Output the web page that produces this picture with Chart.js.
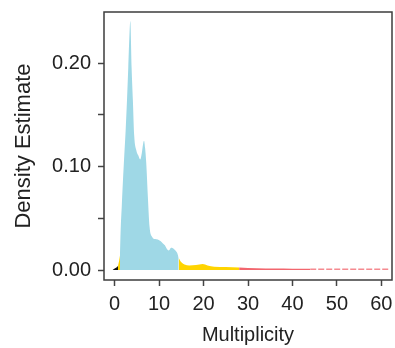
<!DOCTYPE html>
<html>
<head>
<meta charset="utf-8">
<script src="https://cdn.jsdelivr.net/npm/chart.js@4/dist/chart.umd.min.js"></script>
<style>
  html, body { margin: 0; padding: 0; background: #fff; }
  canvas { display: block; }
</style>
</head>
<body>
<canvas id="density-chart" width="395" height="348"></canvas>
<script>
// Multiplicity values (x) and density estimates (y), one pair of arrays per coloured region
const blackX = [-0.5, 0, 0.4, 0.75];
const blackY = [0.0, 0.0015, 0.0025, 0.004];

const yellowLowX = [0.75, 1.0, 1.2];
const yellowLowY = [0.004, 0.009, 0.014];

const blueX = [1.2, 1.35, 1.6, 1.87, 2.15, 2.47, 2.77, 3.06, 3.3, 3.52, 3.81, 4.1, 4.4, 4.87, 5.3, 5.76, 6.1, 6.4, 6.6, 6.85, 7.1, 7.47, 7.85, 8.45, 9.1, 9.7, 10.3, 10.8, 11.3, 11.6, 12.1, 12.4, 12.7, 13.1, 13.45, 14.05, 14.4];
const blueY = [0.014, 0.039, 0.062, 0.087, 0.11, 0.135, 0.164, 0.196, 0.225, 0.241, 0.196, 0.164, 0.13, 0.116, 0.111, 0.107, 0.113, 0.122, 0.125, 0.118, 0.104, 0.071, 0.042, 0.032, 0.030, 0.0296, 0.028, 0.026, 0.024, 0.0215, 0.019, 0.020, 0.0215, 0.0212, 0.020, 0.0167, 0.012];

const yellowHighX = [14.4, 14.95, 15.7, 16.8, 18.3, 19.8, 20.9, 22.4, 25.0, 28.0];
const yellowHighY = [0.012, 0.0077, 0.0055, 0.0045, 0.0048, 0.0058, 0.0045, 0.0033, 0.003, 0.0025];

const redX = [28.0, 32.0, 36.0, 40.0, 44.0];
const redY = [0.0025, 0.0018, 0.0015, 0.0013, 0.0012];

const redTailX = [44.0, 52.0, 62.0];
const redTailY = [0.0009, 0.0008, 0.0008];

const xTickValues = [0, 10, 20, 30, 40, 50, 60];
const yTickValues = [0, 0.05, 0.10, 0.15, 0.20];
const yTickLabels = ['0.00', '', '0.10', '', '0.20'];

const toPoints = (xs, ys) => xs.map((x, i) => ({ x: x, y: ys[i] }));

// cadre autour de la zone du graphique
const boxPlugin = {
  id: 'plotBox',
  afterDraw: function(chart) {
    const a = chart.chartArea;
    const ctx = chart.ctx;
    ctx.save();
    ctx.strokeStyle = '#3d3d3d';
    ctx.lineWidth = 1.5;
    ctx.strokeRect(a.left, a.top, a.right - a.left, a.bottom - a.top);
    ctx.restore();
  }
};

function area(xs, ys, color) {
  return {
    data: toPoints(xs, ys),
    backgroundColor: color,
    borderColor: color,
    borderWidth: 0,
    pointRadius: 0,
    fill: 'origin',
    cubicInterpolationMode: 'monotone'
  };
}

const ctx = document.getElementById('density-chart');
new Chart(ctx, {
  type: 'line',
  data: {
    datasets: [
      area(blackX, blackY, '#111111'),
      area(yellowLowX, yellowLowY, '#ffd400'),
      area(blueX, blueY, '#9fd8e6'),
      area(yellowHighX, yellowHighY, '#ffd400'),
      area(redX, redY, '#f2666e'),
      {
        data: toPoints(redTailX, redTailY),
        borderColor: '#f58a90',
        borderWidth: 1.5,
        borderDash: [6, 2],
        pointRadius: 0,
        fill: false
      }
    ]
  },
  options: {
    responsive: false,
    animation: false,
    devicePixelRatio: 1,
    layout: { padding: { top: 12, right: 3, left: 0, bottom: 0 } },
    plugins: {
      legend: { display: false },
      tooltip: { enabled: false }
    },
    scales: {
      x: {
        type: 'linear',
        min: -2.4,
        max: 62.4,
        afterBuildTicks: function(scale) {
          scale.ticks = xTickValues.map(v => ({ value: v }));
        },
        afterFit: function(scale) {
          scale.height = 68;
          scale.paddingLeft = 0;
          scale.paddingRight = 0;
        },
        grid: {
          drawOnChartArea: false,
          tickLength: 6,
          tickColor: '#444',
          tickWidth: 1.5
        },
        border: { display: false },
        ticks: {
          color: '#222',
          padding: 6,
          maxRotation: 0,
          font: { family: 'Liberation Sans, Arial, sans-serif', size: 20 }
        },
        title: {
          display: true,
          text: 'Multiplicity',
          color: '#222',
          padding: { top: 0, bottom: 1 },
          font: { family: 'Liberation Sans, Arial, sans-serif', size: 20 }
        }
      },
      y: {
        type: 'linear',
        min: -0.0096,
        max: 0.2496,
        afterBuildTicks: function(scale) {
          scale.ticks = yTickValues.map(v => ({ value: v }));
        },
        afterFit: function(scale) {
          scale.width = 104;
          scale.paddingTop = 0;
          scale.paddingBottom = 0;
        },
        grid: {
          drawOnChartArea: false,
          tickLength: 6,
          tickColor: '#444',
          tickWidth: 1.5
        },
        border: { display: false },
        ticks: {
          color: '#222',
          padding: 7,
          callback: function(value, index) { return yTickLabels[index]; },
          font: { family: 'Liberation Sans, Arial, sans-serif', size: 20 }
        },
        title: {
          display: true,
          text: 'Density Estimate',
          color: '#222',
          padding: { top: 11, bottom: 0 },
          font: { family: 'Liberation Sans, Arial, sans-serif', size: 22 }
        }
      }
    }
  },
  plugins: [boxPlugin]
});
</script>
</body>
</html>
